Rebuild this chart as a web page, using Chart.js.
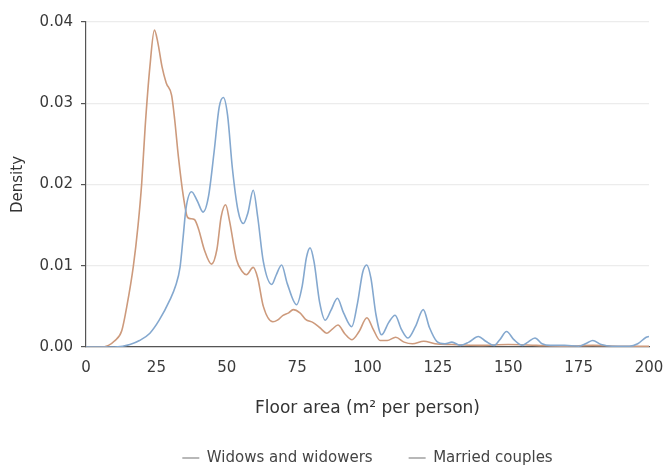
<!DOCTYPE html>
<html>
<head>
<meta charset="utf-8">
<script src="https://cdn.jsdelivr.net/npm/chart.js@4/dist/chart.umd.min.js"></script>
<style>
html,body{margin:0;padding:0;background:#fff;}
#wrap{width:666px;height:466px;}
</style>
</head>
<body>
<div id="wrap"><canvas id="c" width="666" height="466"></canvas></div>
<script>
const marriedX = [0,5,8,10,12.7,14.5,16.8,18.5,19.8,21,22.7,24.3,25.5,27,28.5,30.4,31.5,32.8,34.6,36,37,38.5,40,42,44.6,46.5,48,49.6,51,53.5,55.5,57,59.4,61,63,66.4,68,70,72,73.6,76,78,80.7,83,85.6,87.5,89.5,92,94.5,97,99.8,102,104.5,107,110,113,116,120,124,130,140,150,160,170,180,190,200];
const marriedY = [0,0,0.0002,0.0007,0.002,0.005,0.0099,0.015,0.0202,0.027,0.0345,0.039,0.0375,0.0345,0.0325,0.031,0.028,0.0235,0.0185,0.016,0.0158,0.0157,0.0145,0.012,0.0102,0.012,0.016,0.0175,0.0155,0.0107,0.0093,0.0089,0.0098,0.0085,0.005,0.0031,0.0033,0.0039,0.0042,0.0046,0.0042,0.0034,0.003,0.0024,0.0017,0.0022,0.0027,0.0016,0.0009,0.0019,0.0036,0.0022,0.0008,0.0008,0.0012,0.0006,0.0004,0.0007,0.0004,0.0003,0.0002,0.0003,0.0002,0.0001,0.0002,0.0001,0.0001];
const widowsX = [0,10,13,15.6,19,22.7,26,29.8,31.8,33.4,34.5,35.5,37.5,39.5,41.6,43.5,45.5,47.3,48.8,50.3,52,54,55.9,57.5,59.4,61,63,66,67.5,69.5,71.5,74.8,76.8,78.3,79.6,81,83,85,87,89.3,91.5,94.4,96.5,98.3,99.7,101.2,103,105,107.5,109.8,112,114.4,117,119.8,122,124.6,127.5,130,133,136,139.4,142,145,147,149.4,152,155,157,159.5,162,165,170,175,178,180,183,187,193,196,199,200];
const widowsY = [0,0,0.0001,0.0003,0.0008,0.0017,0.0033,0.0058,0.0075,0.0098,0.0135,0.017,0.0191,0.018,0.0166,0.0185,0.024,0.0295,0.0307,0.0285,0.022,0.0168,0.0152,0.0165,0.0193,0.016,0.0105,0.0077,0.0088,0.0101,0.0078,0.0052,0.0075,0.011,0.0122,0.0105,0.0055,0.0033,0.0045,0.006,0.0042,0.0025,0.0055,0.0092,0.0101,0.0085,0.004,0.0015,0.003,0.0039,0.0022,0.0011,0.0025,0.0046,0.0024,0.0007,0.0004,0.0006,0.0002,0.0006,0.0013,0.0007,0.0002,0.0009,0.0019,0.0009,0.0002,0.0006,0.0011,0.0004,0.0002,0.0002,0.0001,0.0005,0.0008,0.0003,0.0001,0.0001,0.0004,0.0012,0.0013];
const xTicks = [0,25,50,75,100,125,150,175,200];
const yTicks = [0,0.01,0.02,0.03,0.04];
const seriesNames = ['Widows and widowers','Married couples'];

const toPts = (xs, ys) => xs.map((x, i) => ({x: x, y: ys[i]}));
const FONT = '"DejaVu Sans", Verdana, sans-serif';

new Chart(document.getElementById('c'), {
  type: 'line',
  data: {
    datasets: [
      {label: seriesNames[0], data: toPts(widowsX, widowsY), borderColor: '#84a8cf', borderWidth: 1.6, pointRadius: 0, cubicInterpolationMode: 'monotone', fill: false},
      {label: seriesNames[1], data: toPts(marriedX, marriedY), borderColor: '#cd9a7c', borderWidth: 1.6, pointRadius: 0, cubicInterpolationMode: 'monotone', fill: false}
    ]
  },
  options: {
    responsive: false,
    animation: false,
    layout: {padding: {top: 22, right: 17, left: 0, bottom: -9.5}},
    plugins: {
      legend: {
        position: 'bottom',
        fullSize: false,
        labels: {
          usePointStyle: true, pointStyle: 'line', pointStyleWidth: 17,
          color: '#444', font: {family: FONT, size: 15}, padding: 36,
          generateLabels: (chart) => chart.data.datasets.map((d, i) => ({
            text: d.label, strokeStyle: '#a0a0a0', fillStyle: '#a0a0a0', lineWidth: 1.5,
            pointStyle: 'line', datasetIndex: i, fontColor: '#444'
          }))
        }
      },
      tooltip: {enabled: false}
    },
    scales: {
      x: {
        type: 'linear', min: 0, max: 200,
        afterBuildTicks: (s) => { s.ticks = xTicks.map(v => ({value: v})); },
        grid: {display: false, drawTicks: true, tickLength: 5, tickColor: '#555'},
        border: {display: true, color: '#555', width: 1.2},
        ticks: {color: '#3a3a3a', font: {family: FONT, size: 15}, padding: 7, maxRotation: 0},
        title: {display: true, text: 'Floor area (m² per person)', color: '#333', font: {family: FONT, size: 17}, padding: {top: 0, bottom: -4}},
        afterFit: (s) => { s.height = 67.5; s.paddingRight = 0; s.paddingLeft = 0; }
      },
      y: {
        min: 0, max: 0.04,
        afterBuildTicks: (s) => { s.ticks = yTicks.map(v => ({value: v})); },
        grid: {color: '#ececec', lineWidth: 1.2, drawTicks: true, tickLength: 5, tickColor: '#555'},
        border: {display: true, color: '#555', width: 1.2},
        ticks: {color: '#3a3a3a', font: {family: FONT, size: 15}, padding: 8, callback: (v) => v.toFixed(2)},
        title: {display: true, text: 'Density', color: '#333', font: {family: FONT, size: 15}, padding: {top: 9, bottom: 0}},
        afterFit: (s) => { s.width = 86; s.paddingTop = 0; s.paddingBottom = 0; }
      }
    }
  }
});
</script>
</body>
</html>
